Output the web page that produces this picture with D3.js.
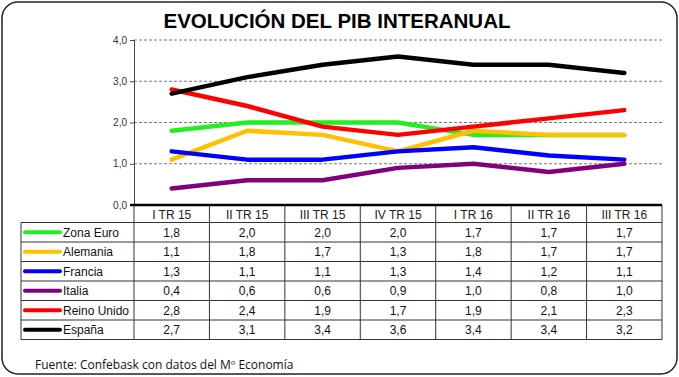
<!DOCTYPE html>
<meta charset="utf-8">
<style>
  body { margin: 0; background: #fff; font-family: "Liberation Sans", Arial, sans-serif; }
</style>
<body>
<div id="chart"></div>
<script src="https://d3js.org/d3.v7.min.js"></script>
<script>
// quarters and GDP year-on-year growth per country
const quarters = ["I TR 15", "II TR 15", "III TR 15", "IV TR 15", "I TR 16", "II TR 16", "III TR 16"];
const countries = ["Zona Euro", "Alemania", "Francia", "Italia", "Reino Unido", "España"];
const zonaEuro   = [1.8, 2.0, 2.0, 2.0, 1.7, 1.7, 1.7];
const alemania   = [1.1, 1.8, 1.7, 1.3, 1.8, 1.7, 1.7];
const francia    = [1.3, 1.1, 1.1, 1.3, 1.4, 1.2, 1.1];
const italia     = [0.4, 0.6, 0.6, 0.9, 1.0, 0.8, 1.0];
const reinoUnido = [2.8, 2.4, 1.9, 1.7, 1.9, 2.1, 2.3];
const espana     = [2.7, 3.1, 3.4, 3.6, 3.4, 3.4, 3.2];
const yTicks = [0, 1, 2, 3, 4];

const seriesColors = ["#22ee22", "#ffc000", "#0000ff", "#800080", "#ff0000", "#000000"];
const seriesValues = [zonaEuro, alemania, francia, italia, reinoUnido, espana];

const width = 679, height = 377;
const fmt = v => d3.format(".1f")(v).replace(".", ",");

const svg = d3.select("#chart").append("svg")
  .attr("width", width).attr("height", height);

// outer rounded frame
svg.append("rect")
  .attr("x", 2).attr("y", 2).attr("width", 675).attr("height", 372)
  .attr("rx", 16).attr("fill", "#fff").attr("stroke", "#222").attr("stroke-width", 1.5);

svg.append("text")
  .attr("x", 337).attr("y", 28)
  .attr("text-anchor", "middle")
  .style("font", "bold 20.5px 'Liberation Sans', Arial, sans-serif")
  .text("EVOLUCIÓN DEL PIB INTERANUAL");

const x = d3.scaleBand().domain(quarters).range([134, 662]);
const y = d3.scaleLinear().domain([0, 4]).range([205, 40]);

// grid lines
svg.append("g").selectAll("line")
  .data(yTicks.filter(d => d > 0))
  .join("line")
  .attr("x1", 134).attr("x2", 662)
  .attr("y1", d => y(d)).attr("y2", d => y(d))
  .attr("stroke", "#555").attr("stroke-width", 0.8)
  .attr("stroke-dasharray", "3,2");

// y axis
const yAxis = svg.append("g")
  .attr("transform", "translate(134,0)")
  .call(d3.axisLeft(y).tickValues(yTicks).tickFormat(fmt).tickSize(4).tickPadding(3));
yAxis.select(".domain").attr("stroke", "#444");
yAxis.selectAll(".tick line").attr("stroke", "#444");
yAxis.selectAll("text")
  .style("font-size", "10px").style("font-family", "'Liberation Sans', Arial, sans-serif")
  .attr("fill", "#333");

// lines
const line = d3.line()
  .x((d, i) => x(quarters[i]) + x.bandwidth() / 2)
  .y(d => y(d));

svg.append("g").selectAll("path")
  .data(seriesValues)
  .join("path")
  .attr("d", d => line(d))
  .attr("fill", "none")
  .attr("stroke", (d, i) => seriesColors[i])
  .attr("stroke-width", 4.5)
  .attr("stroke-linecap", "round")
  .attr("stroke-linejoin", "round");

// data table
const rowTop = 222.5, rowH = 19.5, legendLeft = 21;
const tbl = svg.append("g");
const tableBottom = rowTop + rowH * countries.length;

// horizontal row lines
tbl.selectAll("line.h")
  .data(d3.range(countries.length + 1))
  .join("line")
  .attr("x1", legendLeft).attr("x2", 662)
  .attr("y1", i => rowTop + i * rowH).attr("y2", i => rowTop + i * rowH)
  .attr("stroke", "#333").attr("stroke-width", 1);

// vertical column lines
const colEdges = quarters.map(q => x(q)).concat([662]);
tbl.selectAll("line.v")
  .data(colEdges)
  .join("line")
  .attr("x1", d => d).attr("x2", d => d)
  .attr("y1", 205).attr("y2", tableBottom)
  .attr("stroke", "#333").attr("stroke-width", 1);
tbl.append("line")
  .attr("x1", legendLeft).attr("x2", legendLeft)
  .attr("y1", rowTop).attr("y2", tableBottom)
  .attr("stroke", "#333").attr("stroke-width", 1);

// x axis baseline (thick)
svg.append("line")
  .attr("x1", 130).attr("x2", 662)
  .attr("y1", y(0)).attr("y2", y(0))
  .attr("stroke", "#000").attr("stroke-width", 2.5);

// header labels
tbl.selectAll("text.hdr")
  .data(quarters)
  .join("text")
  .attr("x", d => x(d) + x.bandwidth() / 2)
  .attr("y", 218.5)
  .attr("text-anchor", "middle")
  .style("font-size", "12px")
  .attr("fill", "#222")
  .text(d => d);

// rows
countries.forEach((c, r) => {
  const cy = rowTop + r * rowH + rowH / 2;
  tbl.append("line")
    .attr("x1", 25).attr("x2", 60)
    .attr("y1", cy).attr("y2", cy)
    .attr("stroke", seriesColors[r]).attr("stroke-width", 4)
    .attr("stroke-linecap", "round");
  tbl.append("text")
    .attr("x", 63).attr("y", cy + 4.5)
    .style("font-size", "12px")
    .attr("fill", "#111")
    .text(c);
  tbl.selectAll(null)
    .data(seriesValues[r])
    .join("text")
    .attr("x", (d, i) => x(quarters[i]) + x.bandwidth() / 2)
    .attr("y", cy + 4.5)
    .attr("text-anchor", "middle")
    .style("font-size", "12px")
    .attr("fill", "#111")
    .text(d => fmt(d));
});

svg.append("text")
  .attr("x", 35).attr("y", 369)
  .style("font", "12px 'Open Sans', sans-serif")
  .attr("fill", "#111")
  .text("Fuente: Confebask con datos del Mº Economía");
</script>
